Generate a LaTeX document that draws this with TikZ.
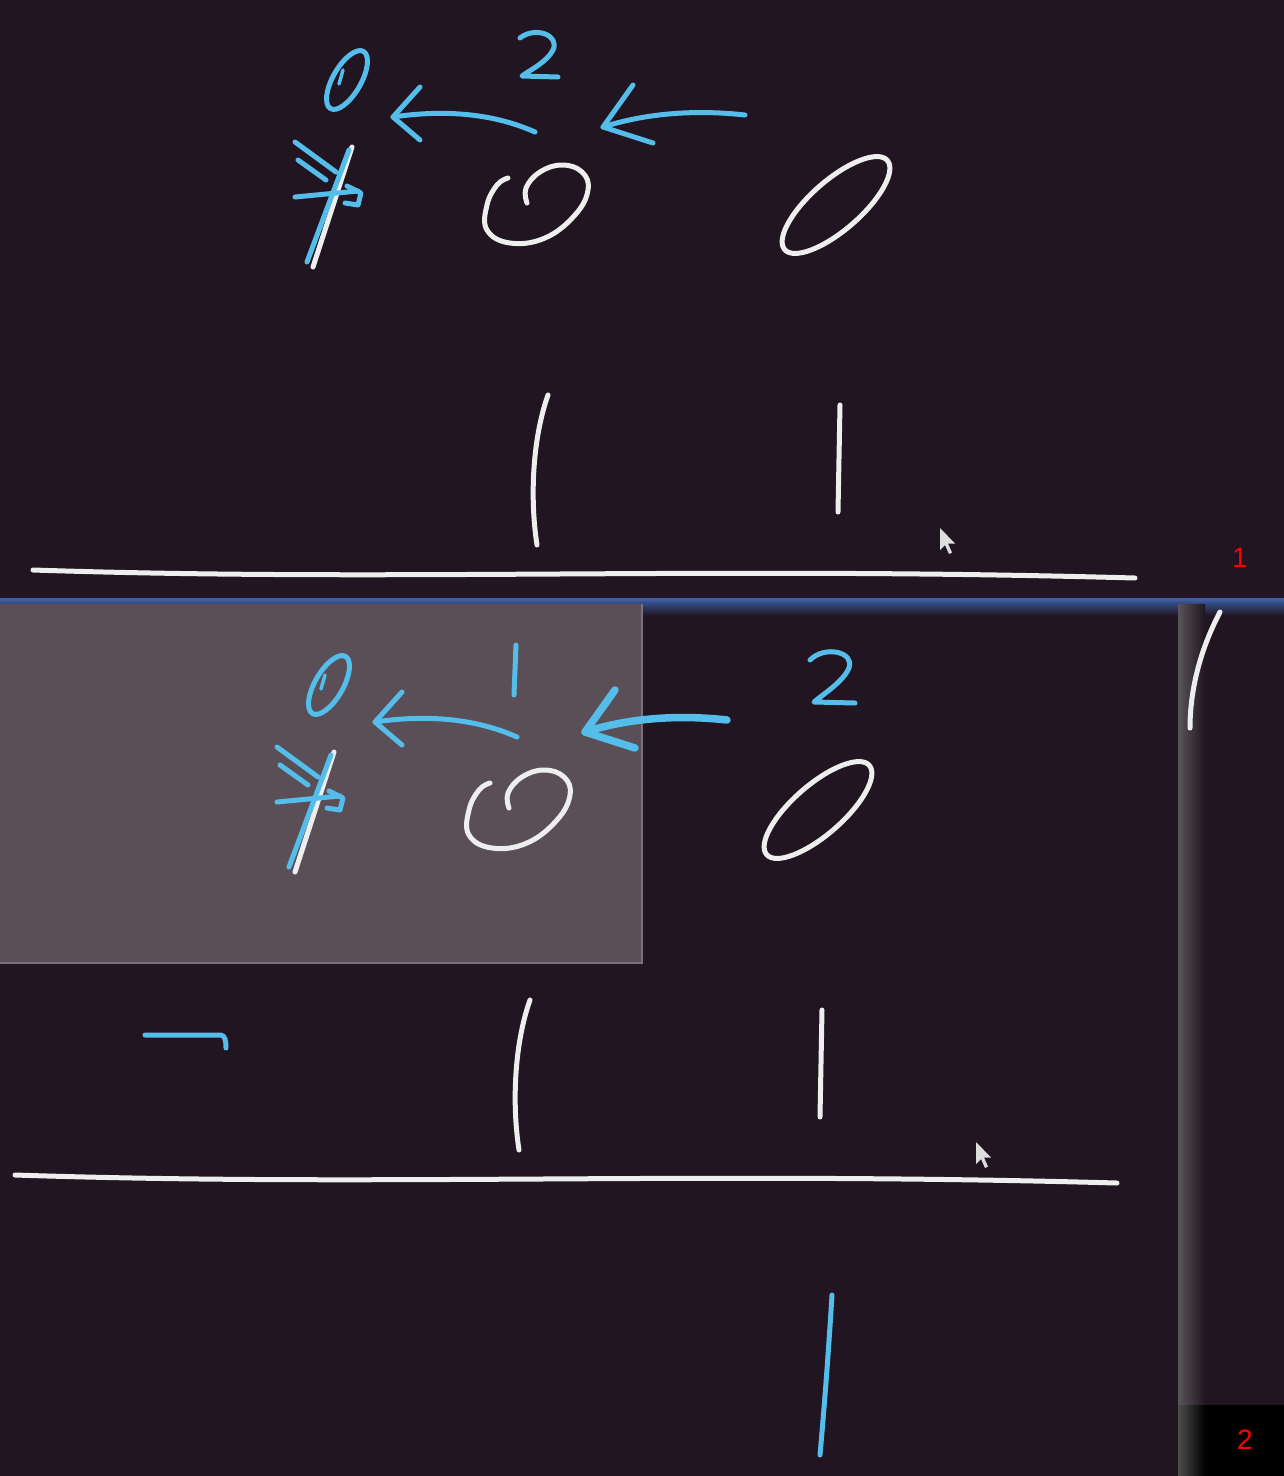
\documentclass[tikz,border=0pt]{standalone}
\usepackage{fontspec}
\setsansfont{Liberation Sans}
\definecolor{bg}{HTML}{201520}
\definecolor{chalkw}{HTML}{EEEEEE}
\definecolor{chalkb}{HTML}{55BDEA}
\definecolor{hilite}{HTML}{5A4F57}
\definecolor{band}{HTML}{3D5FA5}
\tikzset{
  wst/.style={draw=chalkw,line width=5pt,line cap=round,line join=round},
  bst/.style={draw=chalkb,line width=5pt,line cap=round,line join=round},
  redlab/.style={text=red,font=\sffamily\fontsize{28}{30}\selectfont,inner sep=0pt}
}
\newcommand\boardcontent[1]{%
  % blue zero
  \draw[bst,rotate around={60:(347,80)}] (347,80) ellipse (33 and 14);
  \draw[bst,line width=3.5pt] (339,84) -- (343,70);
  % arrow 1
  \draw[bst] (535,132) .. controls (490,112) and (440,110) .. (393,117);
  \draw[bst] (420,87) -- (393,117) -- (420,140);
  % arrow 2
  \draw[bst,line width=#1] (745,115) .. controls (700,110) and (650,112) .. (603,127);
  \draw[bst,line width=#1] (633,85) -- (603,127) -- (653,143);
  % crossed out one
  \draw[wst] (313,267) -- (352,147);
  \draw[bst] (307,262) -- (349,150);
  \draw[bst] (295,142) -- (336,172);
  \draw[bst] (298,160) -- (326,180);
  \draw[bst] (295,197) -- (358,191);
  \draw[bst] (347,186) -- (361,193) -- (358,205) -- (345,203);
  % spiral zero
  \draw[wst] plot[smooth,tension=0.7] coordinates {(527,203) (526,188) (540,172) (562,165) (582,172) (588,190) (575,215) (545,238) (510,243) (487,230) (487,205) (497,185) (508,178)};
  % right zero
  \draw[wst,rotate around={41:(836,205)}] (836,205) ellipse (68 and 25);
  % ones
  \draw[wst] (548,395) .. controls (532,440) and (530,500) .. (537,545);
  \draw[wst] (840,405) -- (838,512);
  % horizontal rule
  \draw[wst] (33,570) .. controls (400,582) and (700,566) .. (1135,578);
}
\newcommand\pointer[2]{%
  \fill[chalkw!85!gray] (#1,#2) -- ++(0,22) -- ++(5,-5) -- ++(4,9) -- ++(3,-1.5) -- ++(-4,-9) -- ++(7,0) -- cycle;
}
\begin{document}
\begin{tikzpicture}[x=1pt,y=-1pt]
  \useasboundingbox (0,0) rectangle (1284,1476);
  \fill[bg] (0,0) rectangle (1284,1476);
  % separator band
  \shade[top color=band,bottom color=bg] (0,598) rectangle (1284,616);
  \fill[band] (0,598) rectangle (1284,601);
  % highlight rectangle
  \fill[hilite] (0,604) rectangle (642,963);
  \draw[hilite!80!white,line width=1.5pt] (0,963) -- (642,963) -- (642,604);
  % right strip
  \fill[black] (1178,1405) rectangle (1284,1476);
  \shade[left color=gray!60!bg,right color=bg] (1178,604) rectangle (1205,1405);
  \shade[left color=gray!60!black,right color=black] (1178,1405) rectangle (1205,1476);
  % top panel
  \boardcontent{5pt}
  \draw[bst] (520,38) .. controls (535,26) and (560,35) .. (553,50) .. controls (547,62) and (530,70) .. (522,76) -- (558,77);
  \pointer{940}{528}
  % bottom panel
  \begin{scope}[shift={(-18,605)}]
    \boardcontent{7.5pt}
  \end{scope}
  \draw[bst] (516,645) -- (514,695);
  \draw[bst] (810,660) .. controls (825,645) and (855,652) .. (849,668) .. controls (843,682) and (822,695) .. (814,702) -- (855,703);
  \draw[bst] (145,1035) -- (221,1035) .. controls (225,1036) and (226,1040) .. (226,1048);
  \pointer{976}{1142}
  \draw[bst] (832,1295) .. controls (828,1360) and (824,1410) .. (820,1455);
  \draw[wst] (1220,612) .. controls (1200,650) and (1190,690) .. (1190,728);
  % panel labels
  \node[redlab] (lab1) at (1240,558) {1};
  \node[redlab] (lab2) at (1245,1440) {2};
\end{tikzpicture}
\end{document}
